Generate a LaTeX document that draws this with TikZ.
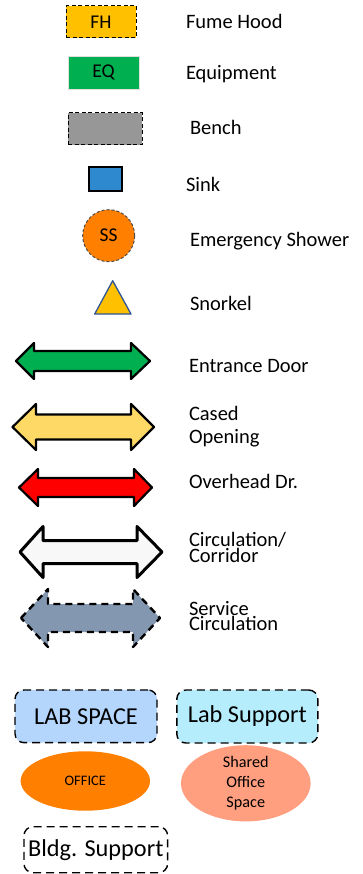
\documentclass[tikz,border=0pt]{standalone}
\usepackage{fontspec}
\setmainfont{Carlito}
\usetikzlibrary{shapes.geometric}

% double headed block arrow: left tip, left head base, right head base, right tip, centre y, half shaft, half head
\newcommand{\legendarrow}[7]{%
    (#1,#5) -- (#2,{#5-#7}) -- (#2,{#5-#6}) -- (#3,{#5-#6}) -- (#3,{#5-#7})
    -- (#4,#5) -- (#3,{#5+#7}) -- (#3,{#5+#6}) -- (#2,{#5+#6}) -- (#2,{#5+#7}) -- cycle}

\begin{document}
\begin{tikzpicture}[x=1pt, y=-1pt,
    inner sep=0pt, outer sep=0pt,
    legendtext/.style={anchor=base west, align=left, font=\fontsize{20.5}{#1}\selectfont},
    legendtext/.default=20.5,
    symtext/.style={font=\fontsize{19.5}{19.5}\selectfont},
    symbox/.style={symtext, draw=black, line width=1pt, dash pattern=on 4pt off 2.5pt, fill=#1},
    arrowshape/.style={draw=black, line width=2.2pt, line join=round, fill=#1},
    roombox/.style={draw=black, line width=1.4pt, dash pattern=on 8pt off 5pt, rounded corners=9pt,
        font=\fontsize{24.3}{24.3}\selectfont, fill=#1},
    roomoval/.style={ellipse, fill=#1, align=center},
]
    % Colors
    \definecolor{fhgold}{HTML}{FFC000}
    \definecolor{eqgreen}{HTML}{00B050}
    \definecolor{benchgray}{HTML}{979797}
    \definecolor{sinkblue}{HTML}{2F89CF}
    \definecolor{ssorange}{HTML}{FF7F00}
    \definecolor{snorkelblue}{HTML}{2F5597}
    \definecolor{casedyellow}{HTML}{FFD966}
    \definecolor{overheadred}{HTML}{FF0000}
    \definecolor{corridorwhite}{HTML}{F8F8F8}
    \definecolor{serviceblue}{HTML}{8497B0}
    \definecolor{labblue}{HTML}{B4D6FD}
    \definecolor{supportcyan}{HTML}{B5EDFD}
    \definecolor{sharedsalmon}{HTML}{FF9F7F}

    \useasboundingbox (0,0) rectangle (362,874);

    % Equipment symbols
    \node[symbox=fhgold, minimum width=70pt, minimum height=32pt] (fh) at (101,22) {FH};
    \node[symtext, fill=eqgreen, draw=black!12, minimum width=71pt, minimum height=33pt] (eq) at (103.5,72.5) {EQ};
    \node[symbox=benchgray, minimum width=74pt, minimum height=32pt] (bench) at (105,129) {};
    \node[draw=black, line width=1.3pt, fill=sinkblue, minimum width=33pt, minimum height=24pt] (sink) at (105.5,179) {};
    \node[circle, symtext, draw=black!70, line width=1pt, dash pattern=on 3pt off 2pt, fill=ssorange,
        minimum size=52pt] (ss) at (108.7,235.7) {SS};
    \draw[snorkelblue, line width=1.3pt, fill=fhgold, line join=round]
        (112.7,280.7) -- (131,314) -- (94.7,314) -- cycle;

    \node[legendtext] (fhlabel) at (186,29) {Fume Hood};
    \node[legendtext] (eqlabel) at (186,80) {Equipment};
    \node[legendtext] (benchlabel) at (190,135) {Bench};
    \node[legendtext] (sinklabel) at (186,192) {Sink};
    \node[legendtext] (sslabel) at (190,247) {Emergency Shower};
    \node[legendtext] (snorkellabel) at (190,310) {Snorkel};

    % Openings and circulation
    \draw[arrowshape=eqgreen] \legendarrow{16}{34}{131}{150}{361}{10}{18};
    \draw[arrowshape=casedyellow] \legendarrow{12.5}{36}{131}{154}{427}{12.5}{23};
    \draw[arrowshape=overheadred] \legendarrow{19}{38}{134}{152}{487.5}{9.5}{18.5};
    \draw[arrowshape=corridorwhite, line width=3pt] \legendarrow{20}{43}{137}{162}{552}{11.5}{25.5};
    \draw[arrowshape=serviceblue, line width=2.4pt, dash pattern=on 7pt off 5pt]
        \legendarrow{21}{48}{133}{160}{618}{14}{29};

    % multi-line labels sit on the baseline of their last line
    \node[legendtext] (doorlabel) at (189,372) {Entrance Door};
    \node[legendtext=23] (casedlabel) at (189,443) {Cased\\Opening};
    \node[legendtext] (overheadlabel) at (189,488) {Overhead Dr.};
    \node[legendtext=16] (circlabel) at (189,562) {Circulation/\\Corridor};
    \node[legendtext=15] (servicelabel) at (189,630) {Service\\Circulation};

    % Room types
    \node[roombox=labblue, minimum width=142pt, minimum height=52.7pt] (lab) at (86,716.3) {LAB SPACE};
    \node[roombox=supportcyan, minimum width=141pt, minimum height=53pt] (support) at (247.3,716.5) {Lab Support};
    \node[roomoval=ssorange, minimum width=129.4pt, minimum height=59.4pt,
        font=\fontsize{14.5}{14.5}\selectfont] (office) at (85.3,781) {OFFICE};
    \node[roomoval=sharedsalmon, minimum width=129.6pt, minimum height=66.6pt,
        font=\fontsize{16.2}{20}\selectfont] (shared) at (245.8,783.3) {Shared\\Office\\Space};
    \node[roombox=white, minimum width=143.7pt, minimum height=46pt] (bldg) at (95.8,849.7) {Bldg. Support};
\end{tikzpicture}
\end{document}
